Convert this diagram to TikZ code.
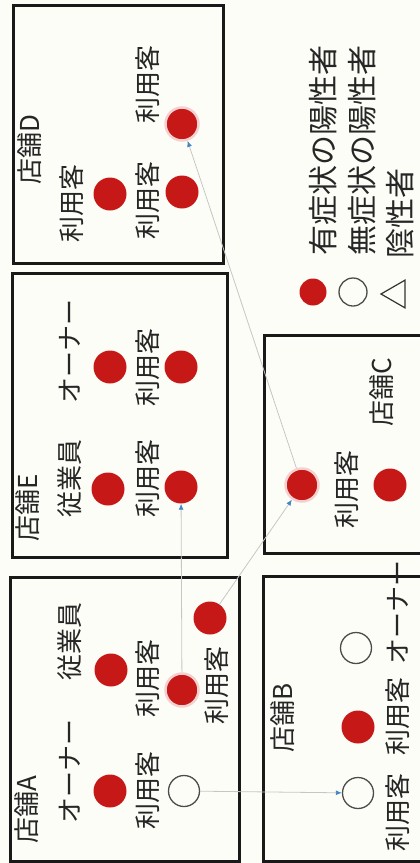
\documentclass[tikz,border=0pt]{standalone}
\usepackage{fontspec}
\setmainfont{Noto Sans CJK JP}
\usetikzlibrary{arrows.meta, shapes.geometric}
\definecolor{rouge}{RGB}{198,24,22}
\definecolor{fleche}{RGB}{70,135,195}
\definecolor{fond}{RGB}{253,253,248}
\tikzset{
  cadre/.style={draw=black!90, line width=3pt},
  positif/.style={circle, fill=rouge, minimum size=33pt, inner sep=0pt},
  positifglow/.style={positif, draw=rouge!20, line width=2.5pt},
  negatif/.style={circle, draw=black!70, line width=1.3pt, minimum size=31pt, inner sep=0pt},
  tri/.style={draw=black!80, line width=1.2pt, regular polygon, regular polygon sides=3, rotate=90, minimum size=32pt, inner sep=0pt},
  lbl/.style={rotate=90, font=\fontsize{26}{26}\selectfont, text=black!85, inner sep=0pt},
  leg/.style={lbl, font=\fontsize{30}{30}\selectfont},
  lien/.style={draw=gray!45, line width=0.8pt, -{Latex[length=6pt,width=5pt,color=fleche]}},
}
\begin{document}
\begin{tikzpicture}[x=1pt, y=-1pt]
        \fill[fond] (0,0) rectangle (420,863);
        \useasboundingbox (0,0) rectangle (420,863);
        \clip (0,0) rectangle (420,863);

        % Les magasins
        \draw[cadre] (13,5) rectangle (223,263);    % D
        \draw[cadre] (12,273) rectangle (227,557);  % E
        \draw[cadre] (10,577) rectangle (239,861);  % A
        \draw[cadre] (264,335) rectangle (440,553); % C
        \draw[cadre] (263,576) rectangle (440,861); % B

        % Magasin A
        \node[lbl] (tA) at (27,810) {店舗A};
        \node[lbl] at (70,771) {オーナー};
        \node[lbl] at (70,641) {従業員};
        \node[lbl] at (148,790) {利用客};
        \node[lbl] at (148,678) {利用客};
        \node[lbl] at (217,685) {利用客};
        \node[positif] (A1) at (110,791) {};
        \node[positif] (A2) at (111,670) {};
        \node[negatif] (A3) at (184,791) {};
        \node[positifglow] (A4) at (182,690) {};
        \node[positif] (A5) at (210,618) {};

        % Magasin B
        \node[lbl] (tB) at (283,718) {店舗B};
        \node[lbl] at (398,812) {利用客};
        \node[lbl] at (398,716) {利用客};
        \node[lbl] at (398,612) {オーナー};
        \node[negatif] (B1) at (356,648) {};
        \node[positif] (B2) at (358,727) {};
        \node[negatif] (B3) at (358,793) {};

        % Magasin C
        \node[lbl] (tC) at (382,392) {店舗C};
        \node[lbl] at (347,489) {利用客};
        \node[positifglow] (C1) at (302,485) {};
        \node[positif] (C2) at (390,485) {};

        % Magasin E
        \node[lbl] (tE) at (28,508) {店舗E};
        \node[lbl] at (70,478) {従業員};
        \node[lbl] at (70,351) {オーナー};
        \node[lbl] at (148,478) {利用客};
        \node[lbl] at (148,367) {利用客};
        \node[positif] (E1) at (108,489) {};
        \node[positif] (E2) at (110,367) {};
        \node[positif] (E3) at (181,487) {};
        \node[positif] (E4) at (181,367) {};

        % Magasin D
        \node[lbl] (tD) at (30,150) {店舗D};
        \node[lbl] at (72,203) {利用客};
        \node[lbl] at (148,200) {利用客};
        \node[lbl] at (148,84) {利用客};
        \node[positif] (D1) at (110,194) {};
        \node[positif] (D2) at (182,192) {};
        \node[positifglow] (D3) at (182,124) {};

        % Contaminations
        \draw[lien] (A3) -- (B3);
        \draw[lien] (A4) -- (E3);
        \draw[lien] (A5) -- (C1);
        \draw[lien] (C1) -- (D3);

        % Legende
        \node[positif, minimum size=27pt] (L1) at (313,292) {};
        \node[negatif, minimum size=28pt] (L2) at (353,292) {};
        \node[tri] (L3) at (397,294) {};
        \node[leg] at (323,150) {有症状の陽性者};
        \node[leg] at (362,150) {無症状の陽性者};
        \node[leg] at (400,213) {陰性者};
    \end{tikzpicture}
\end{document}
